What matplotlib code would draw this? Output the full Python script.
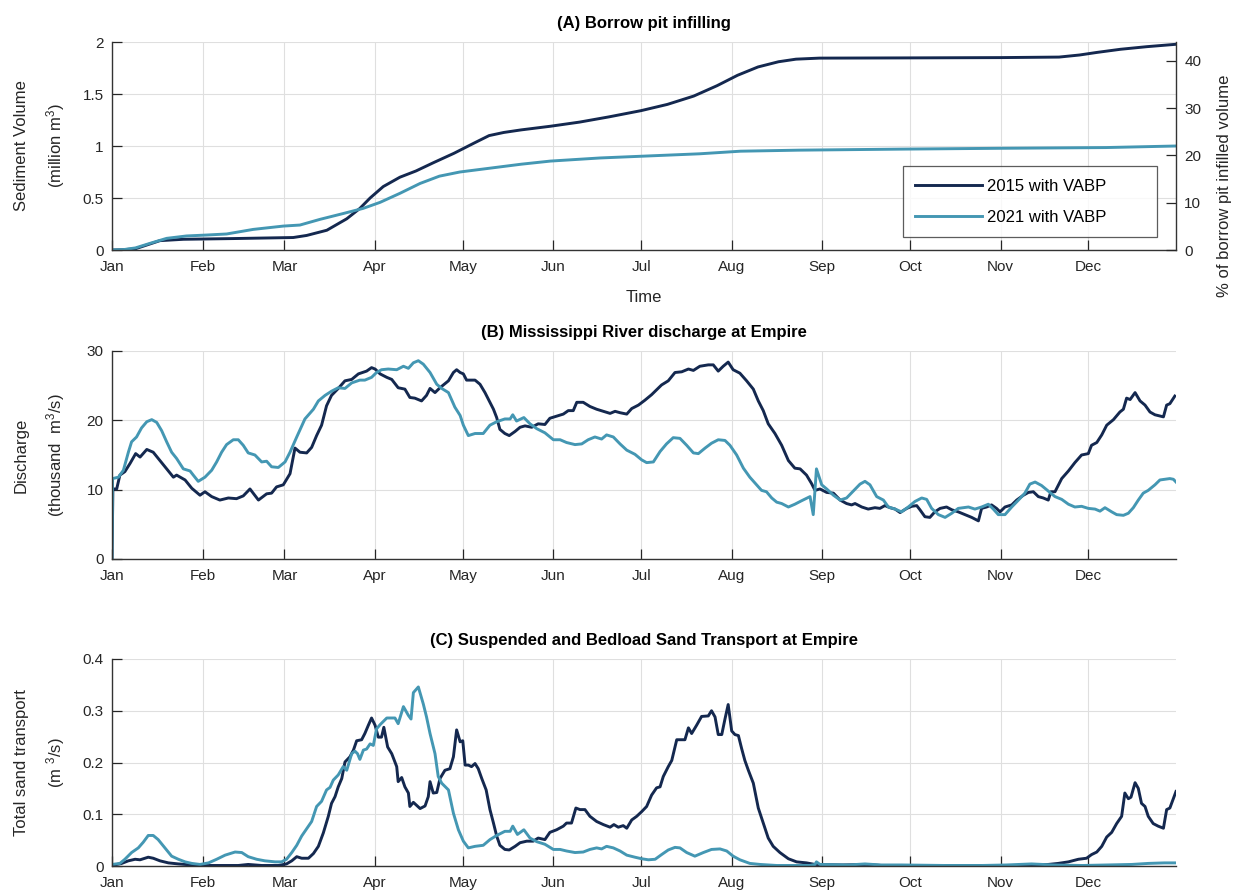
import numpy as np
import matplotlib
matplotlib.use('Agg')
import matplotlib.pyplot as plt

plt.rcParams['font.family'] = ['Liberation Sans', 'DejaVu Sans']
plt.rcParams['mathtext.default'] = 'regular'

month_days = [0, 31, 59, 90, 120, 151, 181, 212, 243, 273, 304, 334]
month_labels = ['Jan', 'Feb', 'Mar', 'Apr', 'May', 'Jun',
                'Jul', 'Aug', 'Sep', 'Oct', 'Nov', 'Dec']
series_labels = ['2015 with VABP', '2021 with VABP']
c2015 = '#14284f'
c2021 = '#4497b3'

# (day of year, value)

# (A) sediment volume, million m3
vol_2015 = [(0, 0), (4, 0.003), (8, 0.012), (11.9, 0.048), (16.4, 0.09), (24.4, 0.103),
            (41.5, 0.11), (62, 0.12), (66.6, 0.14), (73.5, 0.19), (80.3, 0.30), (84.8, 0.40),
            (88.3, 0.50), (92.8, 0.61), (98.5, 0.70), (104, 0.76), (110, 0.84), (117, 0.93),
            (124, 1.03), (129, 1.10), (134, 1.13), (140, 1.155), (150, 1.19), (160, 1.23),
            (170, 1.28), (181, 1.34), (190, 1.40), (199, 1.48), (207, 1.58), (214, 1.68),
            (221, 1.76), (228, 1.81), (234, 1.835), (242, 1.845), (270, 1.847), (304, 1.85),
            (324, 1.855), (331, 1.875), (337, 1.90), (345, 1.93), (354, 1.955), (364, 1.978)]
vol_2021 = [(0, 0), (4, 0.004), (8, 0.02), (13, 0.064), (18.7, 0.112), (25.5, 0.135),
            (32.4, 0.144), (39.2, 0.154), (48.3, 0.198), (58.6, 0.23), (64.3, 0.24),
            (71.2, 0.295), (79, 0.35), (85.9, 0.40), (91.7, 0.458), (98.5, 0.545),
            (105.4, 0.64), (112, 0.71), (119, 0.75), (126, 0.775), (133, 0.80), (140, 0.825),
            (150, 0.855), (167, 0.885), (184, 0.905), (201, 0.925), (215, 0.95), (235, 0.96),
            (270, 0.97), (304, 0.978), (340, 0.985), (364, 1.0)]

# (B) discharge, thousand m3/s
q_2015 = [(0, 0), (0.3, 10.1), (1.6, 10.1), (2.7, 12.1), (4.4, 12.6), (6.2, 13.8), (8.1, 15.2),
          (9.6, 14.7), (11.9, 15.8), (14.1, 15.4), (16.4, 14.2), (18.7, 13.0), (21.0, 11.8),
          (22.1, 12.1), (25.0, 11.4), (27.3, 10.2), (30.1, 9.2), (31.8, 9.7), (34.1, 9.0),
          (36.9, 8.5), (39.8, 8.8), (42.6, 8.7), (44.9, 9.1), (47.2, 10.1), (50.1, 8.5),
          (52.9, 9.4), (54.6, 9.5), (56.3, 10.4), (58.6, 10.7), (60.9, 12.3), (62.6, 16.0),
          (64.3, 15.4), (66.6, 15.3), (68.3, 16.1), (70.0, 17.8), (71.7, 19.3), (73.4, 22.1),
          (75.1, 23.6), (77.4, 24.6), (79.7, 25.7), (82.0, 25.9), (84.3, 26.7), (87.1, 27.1),
          (88.8, 27.6), (90.0, 27.4), (91.7, 26.7), (94.0, 26.2), (95.7, 25.9), (97.9, 24.7),
          (100.2, 24.5), (101.9, 23.3), (103.6, 23.2), (105.9, 22.8), (107.6, 23.6),
          (108.8, 24.6), (110.5, 24.0), (112.2, 24.7), (115.1, 25.7), (116.8, 26.9),
          (117.9, 27.3), (119.1, 26.9), (120.2, 26.7), (121.3, 25.8), (124.2, 25.8),
          (125.9, 25.2), (127.6, 24.0), (129.3, 22.6), (130.5, 21.6), (131.6, 20.4),
          (132.7, 18.7), (134.4, 18.1), (135.9, 17.8), (137.9, 18.4), (139.6, 19.0),
          (141.3, 19.2), (143.6, 19.0), (145.8, 19.5), (148.1, 19.4), (149.8, 20.3),
          (152.1, 20.6), (154.4, 20.9), (156.1, 21.4), (157.8, 21.4), (159.0, 22.6),
          (161.2, 22.6), (163.5, 22.0), (165.8, 21.6), (168.1, 21.3), (170.4, 21.0),
          (172.1, 21.3), (173.8, 21.1), (176.1, 20.9), (177.8, 21.7), (180.1, 22.2),
          (182.3, 22.9), (184.6, 23.7), (186.3, 24.4), (188.0, 25.1), (190.3, 25.7),
          (192.6, 26.9), (194.9, 27.0), (197.2, 27.4), (198.9, 27.2), (201.1, 27.8),
          (204.0, 28.0), (205.7, 28.0), (207.4, 27.1), (209.1, 27.8), (210.8, 28.4),
          (212.5, 27.3), (214.8, 26.8), (217.1, 25.7), (219.4, 24.5), (221.1, 22.8),
          (222.8, 21.4), (224.5, 19.5), (226.8, 18.1), (229.1, 16.4), (231.4, 14.2),
          (233.6, 13.1), (235.4, 13.0), (237.6, 12.1), (239.3, 10.9), (240.5, 9.9),
          (242.2, 10.1), (244.5, 9.6), (246.8, 9.5), (249.1, 8.5), (251.3, 8.0), (253.0, 7.8),
          (254.2, 8.0), (256.5, 7.5), (258.7, 7.2), (261.0, 7.4), (262.7, 7.3), (264.4, 7.7),
          (266.2, 7.4), (267.9, 7.2), (269.6, 6.7), (271.9, 7.3), (273.6, 7.6), (275.3, 7.7),
          (276.4, 7.1), (278.1, 6.1), (279.8, 6.0), (281.5, 6.8), (283.3, 7.3), (285.5, 7.5),
          (287.3, 7.1), (289.5, 6.8), (291.8, 6.4), (294.1, 6.0), (296.4, 5.5), (297.5, 7.3),
          (299.2, 7.5), (300.9, 7.8), (302.6, 7.3), (303.8, 6.8), (305.5, 7.5), (307.8, 7.8),
          (309.5, 8.5), (311.8, 9.2), (313.5, 9.6), (315.2, 9.7), (316.9, 9.0), (318.6, 8.8),
          (320.3, 8.5), (321.2, 9.7), (322.6, 9.7), (324.9, 11.6), (327.2, 12.7),
          (329.4, 13.9), (331.7, 15.0), (334.0, 15.2), (335.1, 16.4), (336.9, 16.8),
          (338.6, 17.9), (340.3, 19.3), (342.6, 20.1), (344.8, 21.2), (346.0, 21.6),
          (347.1, 23.2), (348.3, 23.0), (350.0, 24.0), (351.7, 22.8), (353.4, 22.2),
          (355.1, 21.2), (356.8, 20.8), (359.7, 20.5), (360.8, 22.2), (361.9, 22.4),
          (363.6, 23.5)]
q_2021 = [(0, 0), (0.2, 11.6), (2.2, 11.8), (3.9, 12.8), (5.6, 15.4), (6.7, 16.9), (8.4, 17.6),
          (10.1, 18.9), (11.9, 19.8), (13.6, 20.1), (15.3, 19.7), (17.0, 18.5), (18.7, 16.9),
          (20.4, 15.4), (22.1, 14.5), (24.4, 13.0), (26.7, 12.7), (27.8, 12.1), (29.5, 11.2),
          (31.8, 11.8), (34.1, 12.8), (35.8, 14.0), (37.5, 15.4), (39.2, 16.5), (41.5, 17.2),
          (43.2, 17.2), (44.9, 16.4), (46.6, 15.3), (48.9, 15.0), (51.2, 14.0), (52.9, 14.1),
          (54.6, 13.3), (56.9, 13.2), (59.2, 14.0), (60.9, 15.4), (63.2, 17.6), (66.0, 20.2),
          (68.9, 21.6), (70.6, 22.8), (72.9, 23.6), (75.1, 24.2), (77.4, 24.7), (79.7, 24.6),
          (82.0, 25.4), (84.8, 25.8), (86.5, 25.8), (88.8, 26.2), (90.5, 26.9), (92.2, 27.3),
          (94.5, 27.4), (97.4, 27.3), (99.7, 27.8), (101.4, 27.5), (103.1, 28.3),
          (104.8, 28.6), (106.5, 28.1), (108.8, 26.9), (111.1, 25.2), (112.8, 24.6),
          (115.1, 24.0), (117.3, 21.9), (119.1, 20.7), (120.2, 19.3), (121.9, 17.8),
          (124.2, 18.1), (127.0, 18.1), (129.3, 19.3), (131.6, 19.8), (134.4, 20.2),
          (136.2, 20.2), (137.1, 20.8), (138.4, 19.9), (140.9, 20.4), (143.0, 19.5),
          (145.3, 18.8), (148.1, 18.2), (151.0, 17.2), (153.3, 17.2), (155.5, 16.8),
          (158.4, 16.5), (160.7, 16.6), (162.9, 17.2), (165.2, 17.6), (167.5, 17.3),
          (169.2, 17.9), (171.5, 17.6), (173.8, 16.6), (176.1, 15.7), (178.9, 15.1),
          (181.2, 14.3), (182.9, 13.9), (185.2, 14.0), (187.5, 15.5), (189.7, 16.6),
          (192.0, 17.5), (194.3, 17.4), (196.6, 16.4), (198.9, 15.3), (200.6, 15.2),
          (202.9, 16.0), (205.1, 16.7), (207.4, 17.2), (209.7, 17.1), (211.4, 16.4),
          (213.7, 15.0), (216.0, 13.1), (218.2, 11.8), (220.5, 10.7), (222.2, 9.9),
          (223.9, 9.7), (225.7, 8.8), (227.4, 8.2), (229.1, 8.0), (231.4, 7.5), (233.6, 7.9),
          (235.9, 8.4), (238.8, 9.0), (239.9, 6.4), (241.0, 13.0), (242.8, 10.7),
          (244.5, 10.1), (246.8, 9.2), (249.1, 8.5), (251.3, 8.8), (253.6, 9.8), (255.9, 10.8),
          (257.6, 11.2), (259.3, 10.7), (261.6, 9.0), (263.9, 8.5), (265.6, 7.5), (267.9, 7.2),
          (270.1, 6.8), (272.4, 7.5), (274.7, 8.3), (277.0, 8.8), (278.7, 8.6), (280.4, 7.3),
          (282.7, 6.4), (285.0, 6.0), (287.3, 6.6), (289.5, 7.3), (293.0, 7.5), (295.2, 7.2),
          (297.5, 7.5), (299.8, 7.9), (301.5, 7.2), (303.2, 6.4), (305.5, 6.4), (307.8, 7.5),
          (310.1, 8.5), (312.3, 9.5), (314.0, 10.8), (315.8, 11.1), (318.0, 10.6),
          (320.3, 9.8), (322.6, 9.0), (324.9, 8.6), (327.2, 7.9), (329.4, 7.5), (331.7, 7.6),
          (334.0, 7.3), (336.3, 7.2), (338.0, 6.9), (339.7, 7.4), (342.0, 6.8), (343.7, 6.4),
          (346.0, 6.3), (347.7, 6.6), (349.4, 7.4), (351.1, 8.5), (352.8, 9.5), (354.5, 9.9),
          (356.8, 10.7), (358.5, 11.4), (360.2, 11.5), (361.9, 11.6), (363.1, 11.5),
          (364.0, 11.1)]

# (C) total sand transport, m3/s
sand_2015 = [(0, 0.001), (3.3, 0.005), (5.6, 0.010), (7.9, 0.013), (9.6, 0.012), (12.4, 0.017),
             (14.1, 0.015), (16.4, 0.010), (19.3, 0.006), (22.7, 0.004), (27.3, 0.002),
             (31.8, 0.001), (43.2, 0.001), (46.6, 0.003), (51.2, 0.001), (56.9, 0.001),
             (59.7, 0.004), (61.5, 0.010), (63.2, 0.018), (64.9, 0.015), (67.2, 0.015),
             (68.9, 0.024), (70.6, 0.038), (72.3, 0.064), (74.0, 0.096), (75.1, 0.121),
             (76.3, 0.134), (77.4, 0.153), (78.6, 0.169), (79.7, 0.201), (81.4, 0.211),
             (82.6, 0.224), (83.7, 0.242), (85.4, 0.244), (86.5, 0.256), (87.7, 0.272),
             (88.8, 0.286), (90.0, 0.272), (91.1, 0.249), (92.2, 0.249), (93.0, 0.268),
             (94.3, 0.230), (95.7, 0.217), (97.4, 0.192), (97.9, 0.163), (99.1, 0.171),
             (100.2, 0.153), (101.4, 0.141), (101.9, 0.115), (103.1, 0.123), (105.4, 0.111),
             (107.1, 0.116), (108.2, 0.134), (108.8, 0.163), (109.9, 0.141), (111.1, 0.142),
             (112.2, 0.169), (113.9, 0.185), (115.6, 0.188), (116.8, 0.211), (117.9, 0.263),
             (119.1, 0.240), (120.0, 0.242), (120.8, 0.195), (121.9, 0.195), (123.0, 0.192),
             (124.2, 0.198), (125.3, 0.188), (126.5, 0.169), (128.0, 0.147), (129.3, 0.109),
             (130.5, 0.083), (131.6, 0.058), (132.7, 0.040), (134.4, 0.032), (135.9, 0.031),
             (137.9, 0.038), (139.6, 0.045), (141.9, 0.048), (144.1, 0.048), (145.8, 0.054),
             (148.1, 0.051), (149.8, 0.065), (152.1, 0.070), (154.4, 0.077), (155.5, 0.083),
             (157.2, 0.083), (158.7, 0.112), (160.1, 0.109), (161.8, 0.109), (163.5, 0.096),
             (165.8, 0.086), (168.1, 0.080), (170.4, 0.075), (171.7, 0.080), (173.2, 0.075),
             (174.9, 0.078), (176.1, 0.073), (177.8, 0.089), (179.5, 0.096), (181.2, 0.105),
             (182.9, 0.115), (184.6, 0.137), (186.3, 0.151), (187.5, 0.153), (188.6, 0.173),
             (190.3, 0.192), (191.5, 0.204), (193.2, 0.244), (196.0, 0.244), (197.2, 0.267),
             (198.3, 0.256), (200.0, 0.272), (201.7, 0.289), (204.0, 0.290), (205.1, 0.300),
             (206.3, 0.288), (207.4, 0.254), (208.6, 0.254), (209.7, 0.284), (210.8, 0.312),
             (212.0, 0.261), (213.1, 0.254), (214.3, 0.252), (215.4, 0.227), (216.5, 0.204),
             (217.7, 0.185), (219.4, 0.160), (221.1, 0.112), (222.8, 0.083), (224.5, 0.054),
             (226.2, 0.038), (228.5, 0.026), (231.4, 0.014), (234.2, 0.008), (237.6, 0.006),
             (240.5, 0.003), (250, 0.002), (258, 0.003), (263.3, 0.001), (286.1, 0.001),
             (308.9, 0.001), (320.3, 0.003), (323.7, 0.005), (327.2, 0.008), (330.6, 0.013),
             (333.4, 0.015), (335.1, 0.022), (336.9, 0.027), (338.6, 0.038), (340.3, 0.056),
             (342.0, 0.065), (343.7, 0.082), (345.4, 0.096), (346.5, 0.141), (347.7, 0.130),
             (348.6, 0.133), (350.0, 0.161), (351.1, 0.150), (352.2, 0.121), (353.4, 0.115),
             (354.5, 0.096), (356.2, 0.082), (357.9, 0.077), (359.7, 0.073), (360.8, 0.109),
             (361.9, 0.112), (364.0, 0.144)]
sand_2021 = [(0, 0.003), (2.7, 0.005), (4.4, 0.013), (6.7, 0.026), (9.0, 0.035), (10.7, 0.046),
             (12.4, 0.059), (14.1, 0.059), (15.8, 0.051), (18.1, 0.035), (20.4, 0.019),
             (22.7, 0.013), (25.0, 0.008), (27.3, 0.005), (30.1, 0.003), (33.0, 0.006),
             (35.8, 0.013), (38.7, 0.021), (42.1, 0.027), (44.4, 0.026), (46.6, 0.018),
             (49.5, 0.013), (52.3, 0.010), (55.8, 0.008), (58.0, 0.008), (59.7, 0.013),
             (61.5, 0.026), (63.2, 0.040), (64.9, 0.058), (66.6, 0.072), (68.3, 0.086),
             (70.0, 0.115), (71.7, 0.125), (73.4, 0.147), (74.6, 0.152), (75.7, 0.166),
             (77.4, 0.176), (79.1, 0.192), (80.3, 0.185), (82.0, 0.217), (83.1, 0.222),
             (84.0, 0.217), (84.8, 0.206), (86.0, 0.224), (87.1, 0.226), (88.3, 0.236),
             (89.4, 0.233), (90.5, 0.265), (91.7, 0.273), (94.0, 0.286), (96.8, 0.286),
             (97.9, 0.275), (99.7, 0.308), (101.4, 0.291), (102.3, 0.284), (103.1, 0.335),
             (104.8, 0.346), (106.5, 0.313), (107.6, 0.288), (108.8, 0.256), (110.5, 0.217),
             (111.6, 0.173), (112.8, 0.160), (115.1, 0.147), (116.8, 0.102), (118.5, 0.070),
             (120.2, 0.048), (121.9, 0.035), (124.2, 0.038), (127.0, 0.040), (129.3, 0.051),
             (131.6, 0.059), (134.4, 0.067), (136.2, 0.067), (137.1, 0.077), (138.7, 0.061),
             (140.9, 0.070), (143.0, 0.054), (145.3, 0.047), (148.1, 0.042), (151.0, 0.032),
             (153.3, 0.032), (155.5, 0.029), (158.4, 0.026), (161.2, 0.027), (163.5, 0.032),
             (165.8, 0.035), (167.5, 0.033), (169.2, 0.038), (171.5, 0.035), (173.8, 0.029),
             (176.1, 0.021), (178.9, 0.017), (181.2, 0.014), (183.5, 0.012), (185.8, 0.013),
             (188.0, 0.022), (190.3, 0.031), (192.6, 0.036), (194.3, 0.035), (196.6, 0.026),
             (199.4, 0.019), (202.3, 0.026), (205.1, 0.032), (208.0, 0.033), (210.3, 0.029),
             (212.5, 0.019), (214.8, 0.012), (218.2, 0.005), (221.7, 0.003), (227.4, 0.001),
             (238.8, 0.001), (240.5, 0.003), (241.0, 0.008), (242.2, 0.003), (252, 0.002),
             (257.6, 0.004), (263, 0.002), (270, 0.002), (285, 0.001), (297.5, 0.001),
             (306, 0.002), (314.6, 0.004), (322, 0.002), (332, 0.001), (340, 0.002),
             (348.8, 0.003), (354.5, 0.005), (360, 0.006), (364, 0.006)]

W, H = 1235, 892
fig = plt.figure(figsize=(W / 100, H / 100), dpi=100)


def px_axes(left, top, right, bottom):
    return fig.add_axes([left / W, 1 - bottom / H, (right - left) / W, (bottom - top) / H])


def style(ax, ylim, yticks, yticklabels, title, ylabel):
    ax.set_xlim(0, 364)
    ax.set_ylim(*ylim)
    ax.set_xticks(month_days)
    ax.set_xticklabels(month_labels)
    ax.set_yticks(yticks)
    ax.set_yticklabels(yticklabels)
    ax.grid(True, color='#dfdfdf', lw=0.8)
    ax.set_axisbelow(True)
    for s in ['top', 'right']:
        ax.spines[s].set_visible(False)
    for s in ['left', 'bottom']:
        ax.spines[s].set_color('#333333')
        ax.spines[s].set_linewidth(1.0)
    ax.tick_params(direction='in', length=7.5, width=0.9, colors='#262626',
                   labelsize=11, pad=6)
    ax.tick_params(axis='x', pad=7)
    ax.set_title(title, fontsize=12, fontweight='bold', pad=10)
    ax.set_ylabel(ylabel, fontsize=12, color='#262626', linespacing=1.9)
    ax.yaxis.set_label_coords(-0.042, 0.5)


def draw(ax, pairs, color):
    d, v = np.array(pairs).T
    return ax.plot(d, v, color=color, lw=2.1, solid_joinstyle='round')[0]


# (A) borrow pit infilling
axA = px_axes(112, 42, 1176, 250)
lA1 = draw(axA, vol_2015, c2015)
lA2 = draw(axA, vol_2021, c2021)
style(axA, (0, 2), [0, 0.5, 1, 1.5, 2], ['0', '0.5', '1', '1.5', '2'],
      '(A) Borrow pit infilling', 'Sediment Volume\n(million m$^3$)')
axA.set_xlabel('Time', fontsize=12, color='#262626')
axA.xaxis.set_label_coords(0.5, -0.19)

axR = axA.twinx()
axR.set_ylim(0, 44)
axR.set_yticks([0, 10, 20, 30, 40])
for s in ['top', 'left', 'bottom']:
    axR.spines[s].set_visible(False)
axR.spines['right'].set_color('#333333')
axR.spines['right'].set_linewidth(1.0)
axR.tick_params(direction='in', length=7.5, width=0.9, colors='#262626', labelsize=11, pad=6)
axR.set_ylabel('% of borrow pit infilled volume', fontsize=12, color='#262626')
axR.yaxis.set_label_coords(1.039, 0.31)

leg = axR.legend([lA1, lA2], series_labels, loc='lower left',
                 bbox_to_anchor=(0.743, 0.0625, 0.239, 0.3225), mode='expand',
                 fontsize=12, frameon=True, fancybox=False, handlelength=4.0,
                 borderpad=0.75, labelspacing=0.95, handletextpad=0.3, borderaxespad=0)
leg.get_frame().set_edgecolor('#333333')
leg.get_frame().set_linewidth(0.9)

# (B) discharge
axB = px_axes(112, 351, 1176, 559)
draw(axB, q_2015, c2015)
draw(axB, q_2021, c2021)
style(axB, (0, 30), [0, 10, 20, 30], ['0', '10', '20', '30'],
      '(B) Mississippi River discharge at Empire', 'Discharge\n(thousand  m$^3$/s)')

# (C) sand transport
axC = px_axes(112, 659, 1176, 866)
draw(axC, sand_2015, c2015)
draw(axC, sand_2021, c2021)
style(axC, (0, 0.4), [0, 0.1, 0.2, 0.3, 0.4], ['0', '0.1', '0.2', '0.3', '0.4'],
      '(C) Suspended and Bedload Sand Transport at Empire',
      'Total sand transport\n(m $^3$/s)')

fig.savefig('out.png', dpi=100)
